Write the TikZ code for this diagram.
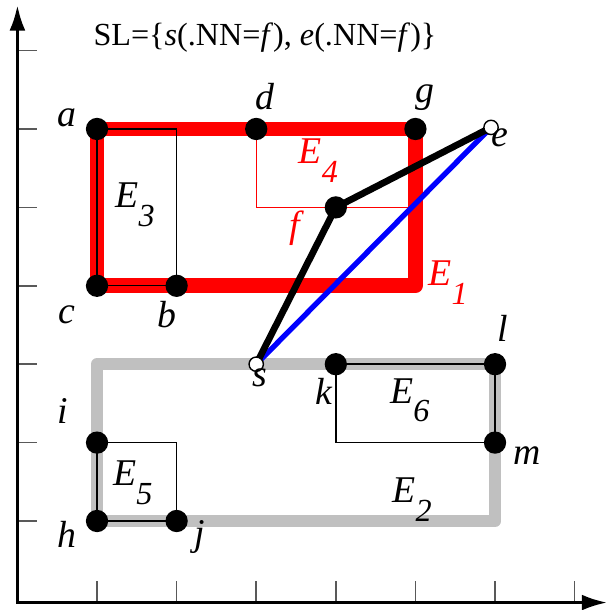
\documentclass[tikz,border=0pt]{standalone}
\usepackage{fontspec}
\setmainfont{Liberation Serif}
\usetikzlibrary{arrows.meta, positioning, calc, backgrounds}
\definecolor{edgegray}{RGB}{192,192,192}
\newcommand{\Ed}[1]{\textit{E}\raisebox{-0.5em}{\fontsize{11.5}{12}\selectfont\textit{#1}}}

\begin{document}
\begin{tikzpicture}[x=1cm, y=0.985cm,
  dot/.style={circle, fill=black, inner sep=0pt, minimum size=0.28cm},
  hole/.style={circle, draw=black, fill=white, inner sep=0pt, minimum size=0.18cm, line width=0.5pt},
  lbl/.style={font=\fontsize{13.5}{14}\selectfont\itshape, inner sep=0pt},
  tick/.style={draw=black!65, line width=0.6pt},
  thin/.style={line width=0.5pt}]
  \useasboundingbox (-0.219,-0.135) rectangle (7.42,7.645);

  % axes
  \coordinate (O) at (0,-0.04);
  \coordinate (xend) at (7.41,-0.04);
  \coordinate (yend) at (0,7.58);
  \foreach \t in {1,...,7} {
    \draw[tick] (\t,-0.04) -- (\t,0.23);
    \draw[tick] (0,\t) -- (0.25,\t);
  }
  \draw[line width=1.2pt, {Latex[length=0.32cm,width=0.2cm]}-{Latex[length=0.32cm,width=0.2cm]}] (yend) -- (O) -- (xend);

  % vertices
  \node[dot] (a) at (1,6) {};
  \node[dot] (d) at (3,6) {};
  \node[dot] (g) at (5,6) {};
  \node[dot] (c) at (1,4) {};
  \node[dot] (b) at (2,4) {};
  \node[dot] (f) at (4,5) {};
  \node[dot] (k) at (4,3) {};
  \node[dot] (l) at (6,3) {};
  \node[dot] (m) at (6,2) {};
  \node[dot] (i) at (1,2) {};
  \node[dot] (h) at (1,1) {};
  \node[dot] (j) at (2,1) {};
  \node[hole] (s) at (3,3) {};
  \node[hole] (e) at (5.95,6.02) {};
  \coordinate (cE1) at (5,4);
  \coordinate (cE4) at (5,5);
  \coordinate (tlE2) at (1,3);
  \coordinate (brE2) at (6,1);

  \begin{scope}[on background layer]
    % regions
    \draw[red, line width=5.3pt, line join=round] (a.center) rectangle (cE1);
    \draw[thin] (a.center) rectangle (b.center);
    \draw[red, thin] (d.center) rectangle (cE4);
    \draw[edgegray, line width=4.4pt, line join=round] (tlE2) rectangle (brE2);
    \draw[thin] (i.center) rectangle (j.center);
    \draw[thin] (k.center) rectangle (m.center);
    % paths
    \draw[blue, line width=1.9pt] (s.center) -- (e.center);
    \draw[line width=2.4pt, line join=round] (s.center) -- (f.center) -- (e.center);
  \end{scope}

  % labels
  \node[font=\fontsize{11.5}{12}\selectfont] (sl) at (3.11,7.17)
    {SL=\{\textit{s}(.NN=\textit{f}), \textit{e}(.NN=\textit{f})\}};
  \node[lbl] (la) at (0.62,6.14) {a};
  \node[lbl] (ld) at (3.11,6.41) {d};
  \node[lbl] (lg) at (5.12,6.40) {g};
  \node[lbl] (lc) at (0.62,3.63) {c};
  \node[lbl] (lb) at (1.88,3.63) {b};
  \node[lbl] (lE3) at (1.48,5.03) {\Ed{3}};
  \node[lbl, red] (lE4) at (3.78,5.60) {\Ed{4}};
  \node[lbl, red] (lf) at (3.49,4.74) {f};
  \node[lbl, red] (lE1) at (5.41,4.04) {\Ed{1}};
  \node[lbl] (le) at (6.06,5.89) {e};
  \node[lbl] (ls) at (3.05,2.83) {s};
  \node[lbl] (ll) at (6.10,3.46) {l};
  \node[lbl] (lk) at (3.85,2.65) {k};
  \node[lbl] (li) at (0.57,2.40) {i};
  \node[lbl] (lE6) at (4.93,2.54) {\Ed{6}};
  \node[lbl] (lm) at (6.40,1.84) {m};
  \node[lbl] (lE5) at (1.45,1.49) {\Ed{5}};
  \node[lbl] (lE2) at (4.96,1.27) {\Ed{2}};
  \node[lbl] (lh) at (0.62,0.83) {h};
  \node[lbl] (lj) at (2.29,0.80) {j};
\end{tikzpicture}
\end{document}
